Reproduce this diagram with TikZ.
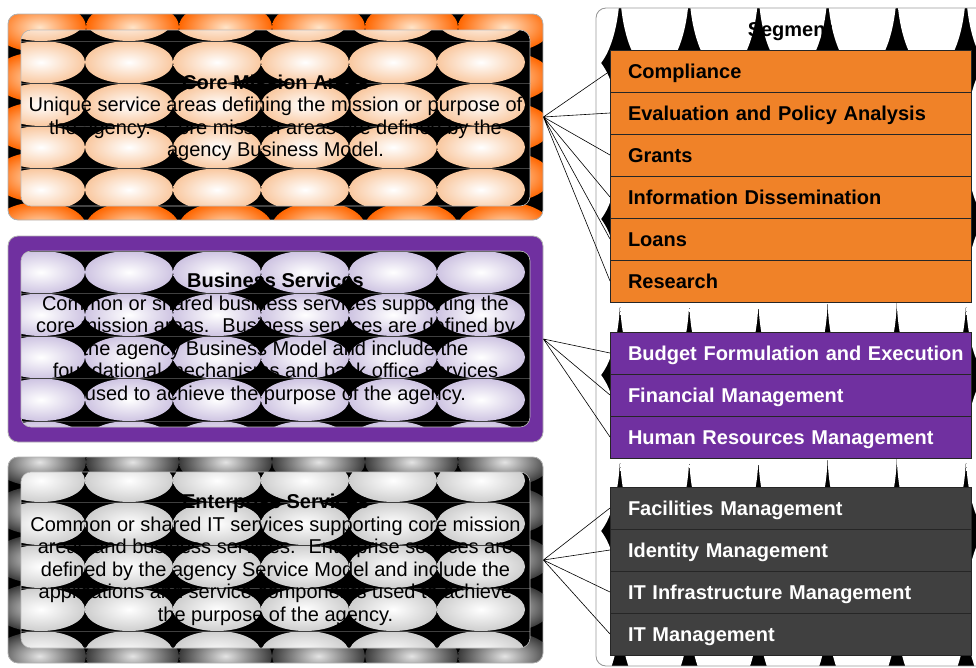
\documentclass[tikz,border=0pt]{standalone}
\usepackage{fontspec}
\setmainfont{Liberation Sans}
\usetikzlibrary{positioning}

\definecolor{segorange}{RGB}{240,130,40}
\definecolor{segpurple}{RGB}{112,48,160}
\definecolor{seggray}{RGB}{64,64,64}
\definecolor{ringorange}{RGB}{255,102,0}
\definecolor{ringlight}{RGB}{255,228,200}
\definecolor{peach}{RGB}{249,200,160}
\definecolor{lavender}{RGB}{206,196,226}
\definecolor{silver}{RGB}{206,206,206}
\definecolor{ringgray}{RGB}{58,58,58}
\definecolor{ringpale}{RGB}{228,228,228}

% rows of shaded ovals: first centre x, y, tile w, h, last column, last row,
% vertical radius, centre colour, rim colour
\newcommand{\ovalgrid}[9]{%
  \foreach \i in {0,...,#5}
    \foreach \j in {0,...,#6}
      \shade[inner color=#8, outer color=#9]
        ({#1+\i*#3},{#2+\j*#4}) ellipse [x radius=#3*0.5pt, y radius=#7pt];}

% thin seams between the oval rows
\newcommand{\seams}[3]{%
  \foreach \j in {0,...,#3}
    \draw[black!75, line width=0.5pt] (0,{#1+\j*#2}) -- (560,{#1+\j*#2});}

\tikzset{
    frame/.style ={
        shape=rectangle,
        rounded corners=10pt,
        minimum width=535pt,
        minimum height=206pt,
        inner sep=0pt,
        draw=black!30,
        line width=0.8pt
    },
    panel/.style ={
        shape=rectangle,
        rounded corners=10pt,
        minimum width=509pt,
        minimum height=176pt,
        inner sep=0pt,
        draw=black!25,
        line width=0.6pt,
        align=center,
        font=\fontsize{20}{22.5}\selectfont
    },
    segframe/.style ={
        shape=rectangle,
        rounded corners=10pt,
        minimum width=394pt,
        minimum height=658pt,
        draw=black!40,
        line width=0.8pt
    },
    segtitle/.style ={
        font=\fontsize{20}{24}\selectfont\bfseries
    },
    segrow/.style ={
        shape=rectangle,
        draw=black!85,
        line width=0.8pt,
        minimum height=42pt,
        text width=352pt,
        inner xsep=4.5pt,
        inner ysep=0pt,
        outer sep=0pt,
        align=left,
        text height=18pt,
        text depth=4pt,
        font=\fontsize{20}{24}\selectfont\bfseries,
        execute at begin node={\noindent\hspace*{13.5pt}}
    },
    orangerow/.style ={segrow, fill=segorange, text=black},
    purplerow/.style ={segrow, fill=segpurple, text=white},
    grayrow/.style ={segrow, fill=seggray, text=white},
    link/.style ={draw=black, line width=0.6pt}
}

\begin{document}
\begin{tikzpicture}[x=1pt,y=-1pt]
    \useasboundingbox (0,0) rectangle (976,667);
    \clip (0,0) rectangle (976,667);

    % segment column
    \begin{scope}
        \clip[rounded corners=10pt] (596,8) rectangle (990,666);
        \fill[black] (596,8) rectangle (990,666);
        \ovalgrid{585.4}{-15}{69.2}{156}{6}{5}{87.4}{white}{white}
    \end{scope}
    \node[segframe] (segment) at (793,337) {};
    \node[segtitle] (segtitle) at (790,32) {Segment};

    \node[orangerow, anchor=west] (comp) at (610,71) {Compliance};
    \node[orangerow, below=0pt of comp] (eval) {Evaluation and Policy Analysis};
    \node[orangerow, below=0pt of eval] (grants) {Grants};
    \node[orangerow, below=0pt of grants] (info) {Information Dissemination};
    \node[orangerow, below=0pt of info] (loans) {Loans};
    \node[orangerow, below=0pt of loans] (research) {Research};

    \node[purplerow, anchor=west] (budget) at (610,353) {Budget Formulation and Execution};
    \node[purplerow, below=0pt of budget] (finance) {Financial Management};
    \node[purplerow, below=0pt of finance] (hr) {Human Resources Management};

    \node[grayrow, anchor=west] (facil) at (610,508) {Facilities Management};
    \node[grayrow, below=0pt of facil] (ident) {Identity Management};
    \node[grayrow, below=0pt of ident] (infra) {IT Infrastructure Management};
    \node[grayrow, below=0pt of infra] (itmgmt) {IT Management};

    % core mission areas
    \begin{scope}
        \clip[rounded corners=10pt] (8,14) rectangle (543,220);
        \fill[black] (8,14) rectangle (543,220);
        \ovalgrid{39.5}{27}{93}{50}{6}{4}{25}{ringlight}{ringorange}
    \end{scope}
    \node[frame] (core) at (275.5,117) {};
    \begin{scope}
        \clip[rounded corners=10pt] (21,30) rectangle (530,206);
        \fill[black] (21,30) rectangle (530,206);
        \ovalgrid{41}{19.75}{88}{42.5}{5}{4}{21.25}{white}{peach}
        \seams{41}{42.5}{3}
    \end{scope}
    \node[panel] (coretext) at (275.5,118) {\textbf{Core Mission Areas}\\
        Unique service areas defining the mission or purpose of\\
        the agency.~ Core mission areas are defined by the\\
        agency Business Model.};

    % business services
    \node[frame, fill=segpurple] (bus) at (275.5,339) {};
    \begin{scope}
        \clip[rounded corners=10pt] (21,251) rectangle (530,427);
        \fill[black] (21,251) rectangle (530,427);
        \ovalgrid{41}{229.75}{88}{42.5}{5}{5}{21.25}{white}{lavender}
        \seams{251}{42.5}{4}
    \end{scope}
    \node[panel] (bustext) at (275.5,339) {\textbf{Business Services}\\
        Common or shared business services supporting the\\
        core mission areas.~ Business services are defined by\\
        the agency Business Model and include the\\
        foundational mechanisms and back office services\\
        used to achieve the purpose of the agency.};

    % enterprise services
    \begin{scope}
        \clip[rounded corners=10pt] (8,457) rectangle (543,663);
        \fill[black] (8,457) rectangle (543,663);
        \ovalgrid{39.5}{462}{93}{48.5}{6}{4}{24.25}{ringpale}{ringgray}
    \end{scope}
    \node[frame] (ent) at (275.5,560) {};
    \begin{scope}
        \clip[rounded corners=10pt] (21,472) rectangle (530,648);
        \fill[black] (21,472) rectangle (530,648);
        \ovalgrid{41}{480.5}{88}{43}{5}{4}{21.5}{white}{silver}
        \seams{502}{43}{3}
    \end{scope}
    \node[panel] (enttext) at (275.5,560) {\textbf{Enterprise Services}\\
        Common or shared IT services supporting core mission\\
        areas and business services.~ Enterprise services are\\
        defined by the agency Service Model and include the\\
        applications and service components used to achieve\\
        the purpose of the agency.};

    \draw[link] (core.east) -- (comp.west) (core.east) -- (eval.west)
        (core.east) -- (grants.west) (core.east) -- (info.west)
        (core.east) -- (loans.west) (core.east) -- (research.west);
    \draw[link] (bus.east) -- (budget.west) (bus.east) -- (finance.west)
        (bus.east) -- (hr.west);
    \draw[link] (ent.east) -- (facil.west) (ent.east) -- (ident.west)
        (ent.east) -- (infra.west) (ent.east) -- (itmgmt.west);
\end{tikzpicture}
\end{document}
